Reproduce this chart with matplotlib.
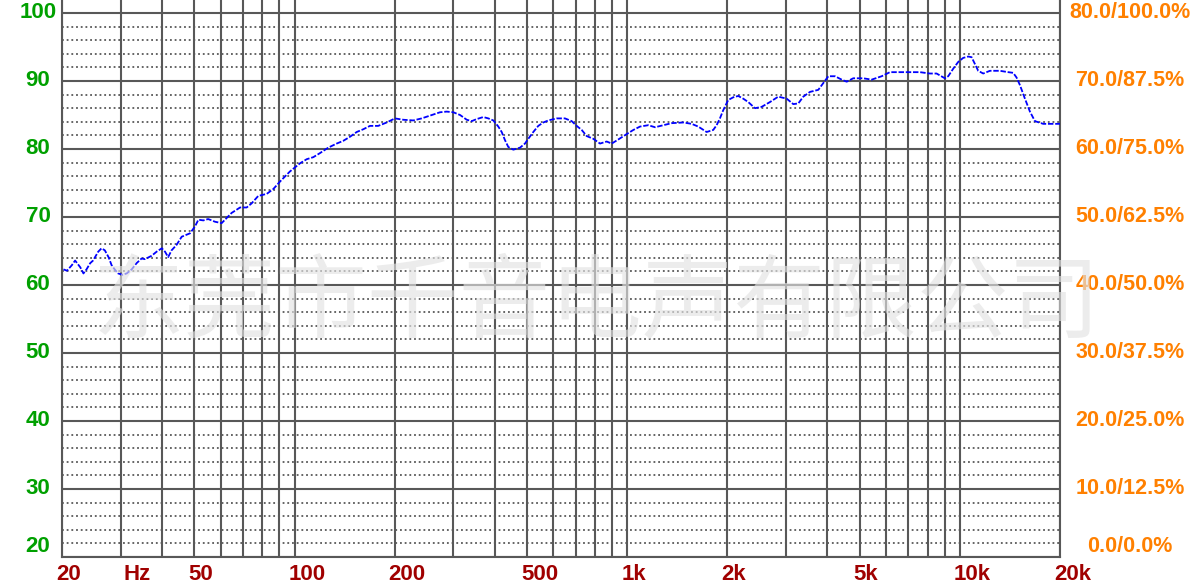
import matplotlib
matplotlib.use("Agg")
import matplotlib.pyplot as plt
import matplotlib.transforms as mtransforms
from matplotlib.ticker import MultipleLocator, NullFormatter

# frequency response (Hz, dB)
freq = [20.2, 20.7, 21.4, 21.9, 22.7, 23.2, 23.7, 24.3, 24.8, 25.7, 26.3, 26.9,
        27.6, 28.2, 28.9, 29.5, 30.4, 31.3, 32.4, 33.5, 34.7, 35.5, 37.2, 38.5,
        39.9, 40.8, 41.7, 42.7, 44.2, 45.8, 47.4, 48.5, 50.2, 51.4, 53.2, 55.0,
        57.7, 60.4, 61.8, 64.7, 68.6, 71.8, 74.3, 77.8, 82.5, 86.3, 90.4, 96.9,
        103.9, 108.8, 113.9, 119.3, 126.3, 133.9, 140.1, 146.8, 153.8, 160.9,
        168.6, 178.5, 189.3, 200.4, 212.3, 227.5, 241.1, 258.4, 273.7, 286.7,
        300.2, 314.5, 329.4, 340.9, 352.9, 369.4, 382.4, 395.9, 409.8, 419.5,
        429.2, 439.1, 454.7, 476.2, 492.9, 504.3, 522.1, 540.4, 559.5, 579.2,
        614.0, 650.0, 681.0, 704.9, 730.0, 755.6, 791.0, 828.5, 867.8, 898.4,
        940.3, 996.9, 1043.5, 1092.9, 1157.5, 1212.6, 1284.1, 1361.1, 1475,
        1562, 1635, 1733, 1814, 1857, 1900, 1944, 2012, 2083, 2157, 2233, 2312,
        2422, 2536, 2686, 2845, 3016, 3157, 3269, 3384, 3545, 3754, 3886, 4024,
        4214, 4414, 4569, 4782, 5125, 5430, 5820, 6163, 6604, 7077, 7584, 8127,
        8513, 9015, 9225, 9549, 9886, 10235, 10596, 10848, 11098, 11355, 11756,
        12313, 13197, 13976, 14467, 14810, 15155, 15690, 16242, 16813, 17804,
        18651, 20000]
spl = [62.3, 62.1, 62.9, 63.6, 62.6, 61.7, 62.3, 63.2, 63.6, 64.9, 65.4, 65.1,
       64.1, 62.9, 62.2, 61.7, 61.5, 61.7, 62.3, 63.2, 63.9, 63.8, 64.3, 64.9,
       65.4, 64.9, 64.1, 65.1, 65.9, 67.1, 67.4, 67.6, 68.6, 69.6, 69.5, 69.7,
       69.3, 69.1, 69.6, 70.6, 71.4, 71.4, 72.0, 73.1, 73.4, 74.1, 75.2, 76.7,
       77.9, 78.5, 78.8, 79.4, 80.2, 80.8, 81.2, 81.8, 82.5, 82.9,
       83.4, 83.4, 83.9, 84.5, 84.3, 84.2, 84.5, 85.0, 85.4, 85.5,
       85.4, 85.0, 84.3, 84.1, 84.4, 84.7, 84.5, 84.2, 83.3, 82.5,
       81.3, 80.3, 79.9, 80.2, 80.8, 81.5, 82.5, 83.4, 83.9, 84.2,
       84.5, 84.5, 84.1, 83.4, 82.8, 81.9, 81.5, 80.8, 81.1, 80.8,
       81.4, 82.2, 82.8, 83.3, 83.5, 83.2, 83.5, 83.8, 83.9,
       83.7, 83.3, 82.5, 82.8, 83.5, 84.5, 85.7, 87.2, 87.6, 87.8, 87.4, 86.9,
       86.0, 86.2, 86.9, 87.7, 87.4, 86.6, 86.7, 87.7, 88.4, 88.7, 89.7, 90.7,
       90.7, 90.2, 89.9, 90.4, 90.4, 90.2, 90.7, 91.3, 91.3, 91.3, 91.3, 91.1,
       91.1, 90.4, 90.7, 91.8, 92.8, 93.4, 93.6, 93.5, 92.5, 91.5, 91.1,
       91.5, 91.5, 91.3, 91.2, 90.5, 89.4, 87.4, 85.5, 84.1, 83.7,
       83.7, 83.7]

grid_freqs = [20, 30, 40, 50, 60, 70, 80, 90, 100, 200, 300, 400, 500, 600,
              700, 800, 900, 1000, 2000, 3000, 4000, 5000, 6000, 7000, 8000,
              9000, 10000, 20000]
x_label_pos = [20, 32, 50, 100, 200, 500, 1000, 2000, 5000, 10000, 20000]
x_labels = ['20', 'Hz', '50', '100', '200', '500', '1k', '2k', '5k', '10k', '20k']
y_left = [100, 90, 80, 70, 60, 50, 40, 30, 20]
y_right = ['80.0/100.0%', '70.0/87.5%', '60.0/75.0%', '50.0/62.5%',
           '40.0/50.0%', '30.0/37.5%', '20.0/25.0%', '10.0/12.5%', '0.0/0.0%']

W, H = 1194, 588
fig = plt.figure(figsize=(W / 100, H / 100), dpi=100)
fig.patch.set_facecolor('white')
ax = fig.add_axes([62 / W, 31 / H, (1060 - 62) / W, 557 / H])

grid_col = '#585858'
ax.set_xscale('log')
ax.set_xlim(20, 20000)
ax.set_ylim(20, 100 + 13 / 6.8)
ax.set_xticks(grid_freqs)
ax.xaxis.set_major_formatter(NullFormatter())
ax.xaxis.set_minor_formatter(NullFormatter())
ax.xaxis.set_minor_locator(plt.NullLocator())
ax.yaxis.set_major_locator(MultipleLocator(10))
ax.yaxis.set_minor_locator(MultipleLocator(2))
ax.yaxis.set_major_formatter(NullFormatter())
ax.tick_params(which='both', length=0)
ax.grid(axis='x', which='major', color=grid_col, lw=1.5)
ax.grid(axis='y', which='major', color=grid_col, lw=1.5)
ax.grid(axis='y', which='minor', color=grid_col, lw=1.3, linestyle=(0, (1, 1.6)))
ax.set_axisbelow(True)
for side in ['left', 'right', 'bottom']:
    ax.spines[side].set_color(grid_col)
    ax.spines[side].set_linewidth(1.5)
ax.spines['top'].set_visible(False)

ax.plot(freq, spl, color='#0000ff', lw=1.3, linestyle=(0, (3, 1)), zorder=3)

# left / right labels
left_tr = mtransforms.blended_transform_factory(fig.transFigure, ax.transData)
for v, rt in zip(y_left, y_right):
    va = 'bottom' if v == 20 else 'center'
    fig.text(38 / W, v, str(v), transform=left_tr, ha='center', va=va,
             color='#00a000', fontsize=16, fontweight='bold',
             family='Liberation Sans')
    fig.text(1130 / W, v, rt, transform=left_tr, ha='center', va=va,
             color='#ff8000', fontsize=15.5, fontweight='bold',
             family='Liberation Sans')

# bottom labels
bot_tr = ax.get_xaxis_transform() + mtransforms.ScaledTranslation(-6 / 100, 0, fig.dpi_scale_trans)
for f, lab in zip(x_label_pos, x_labels):
    ax.text(f, -18 / 557, lab, transform=bot_tr, ha='left', va='center',
            color='#a00000', fontsize=16, fontweight='bold',
            family='Liberation Sans', clip_on=False)

# watermark, semi-transparent over everything (it overlaps the right labels in the original too)
fig.text(596 / W, 1 - 305 / H, '东莞市千音电声有限公司', fontsize=66,
         family=['Noto Sans CJK SC', 'DejaVu Sans'], color='#e2e2e2',
         alpha=0.65, ha='center', va='center', zorder=10)

fig.savefig('out.png', dpi=100)
